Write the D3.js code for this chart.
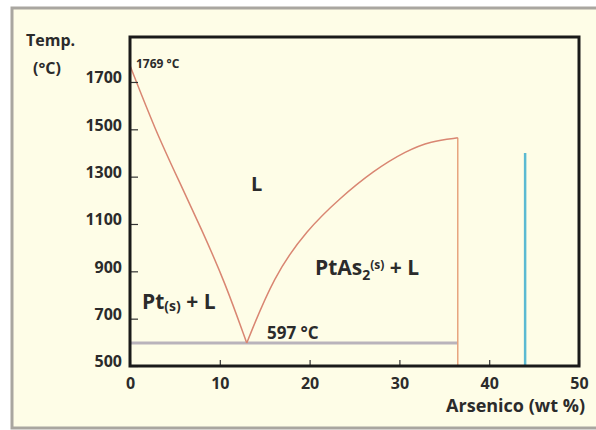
<!DOCTYPE html>
<html>
<head>
<meta charset="utf-8">
<script src="https://d3js.org/d3.v7.min.js"></script>
<style>
  body { margin: 0; background: #fff; }
  text { font-family: "Open Sans", sans-serif; font-weight: 700; fill: #2b2b2b; }
</style>
</head>
<body>
<svg width="596" height="430"></svg>
<script>
// values (wt % As, temperature in °C)
const xTicks = [0, 10, 20, 30, 40, 50];
const yTicks = [500, 700, 900, 1100, 1300, 1500, 1700];
const leftLiquidus = [[0, 1769], [2.8, 1498], [5.4, 1286], [8.0, 1075], [10.6, 851], [13, 597]];
const rightLiquidus = [[13, 597], [16, 880], [19.7, 1075], [23.4, 1210], [27.1, 1325], [30.8, 1410], [33.5, 1450], [36.5, 1464]];
const eutectic = [[0, 597], [36.5, 597]];
const compoundLine = [[36.5, 1464], [36.5, 500]];
const blueLine = [[44, 1400], [44, 500]];

const svg = d3.select("svg");

// pale panel with grey frame
svg.append("rect")
   .attr("x", 12).attr("y", 8)
   .attr("width", 600).attr("height", 420)
   .attr("fill", "#fefde7")
   .attr("stroke", "#a9a6a0")
   .attr("stroke-width", 3);

const x = d3.scaleLinear().domain([0, 50]).range([130, 579]);
const y = d3.scaleLinear().domain([500, 1890]).range([366, 37]);

const line = d3.line().x(d => x(d[0])).y(d => y(d[1]));
const smooth = d3.line().x(d => x(d[0])).y(d => y(d[1])).curve(d3.curveBasis);

// phase boundaries
svg.append("path").attr("d", line(eutectic))
   .attr("fill", "none").attr("stroke", "#b9b3bb").attr("stroke-width", 3);
svg.append("path").attr("d", line(compoundLine))
   .attr("fill", "none").attr("stroke", "#e7a47e").attr("stroke-width", 1.5);
svg.append("path").attr("d", smooth(leftLiquidus))
   .attr("fill", "none").attr("stroke", "#d98672").attr("stroke-width", 1.5);
svg.append("path").attr("d", smooth(rightLiquidus))
   .attr("fill", "none").attr("stroke", "#d98672").attr("stroke-width", 1.5);
svg.append("path").attr("d", line(blueLine))
   .attr("fill", "none").attr("stroke", "#5bbad2").attr("stroke-width", 2.5);

// axes
const xAxis = svg.append("g").attr("transform", "translate(0,366)")
   .call(d3.axisBottom(x).tickValues(xTicks).tickFormat(d3.format("d")).tickSize(-6).tickPadding(12));
const yAxis = svg.append("g").attr("transform", "translate(130,0)")
   .call(d3.axisLeft(y).tickValues(yTicks).tickFormat(d3.format("d")).tickSize(-8).tickPadding(8));
[xAxis, yAxis].forEach(g => {
  g.select(".domain").remove();
  g.selectAll("line").attr("stroke", "#333").attr("stroke-width", 1.2);
  g.selectAll("text").style("font-size", "16px").attr("fill", "#2b2b2b");
});
yAxis.selectAll("text").attr("dy", "0.05em");
xAxis.selectAll("line").attr("y1", 0);

// plot frame
svg.append("rect")
   .attr("x", x(0)).attr("y", y(1890))
   .attr("width", x(50) - x(0)).attr("height", y(500) - y(1890))
   .attr("fill", "none").attr("stroke", "#1a1a1a").attr("stroke-width", 3);

// axis titles
svg.append("text").attr("x", 26).attr("y", 46).style("font-size", "16px").text("Temp.");
svg.append("text").attr("x", 33).attr("y", 74).style("font-size", "16px").text("(°C)");
svg.append("text").attr("x", 585).attr("y", 412).attr("text-anchor", "end")
   .style("font-size", "18px").text("Arsenico (wt %)");

// annotations
svg.append("text").attr("x", 136).attr("y", 68).style("font-size", "12px").text("1769 °C");
svg.append("text").attr("x", 267).attr("y", 339).style("font-size", "17px").text("597 °C");
svg.append("text").attr("x", 251).attr("y", 191).style("font-size", "20px").text("L");

const pt = svg.append("text").attr("x", 142).attr("y", 309).style("font-size", "21px");
pt.append("tspan").text("Pt");
pt.append("tspan").style("font-size", "14px").attr("dy", 2).text("(s)");
pt.append("tspan").attr("dy", -2).text(" + L");

const pta = svg.append("text").attr("x", 315).attr("y", 275).style("font-size", "21px");
pta.append("tspan").text("PtAs");
pta.append("tspan").style("font-size", "14px").attr("dy", 5).text("2");
pta.append("tspan").style("font-size", "12px").attr("dy", -11).text("(s)");
pta.append("tspan").attr("dy", 6).text(" + L");
</script>
</body>
</html>
